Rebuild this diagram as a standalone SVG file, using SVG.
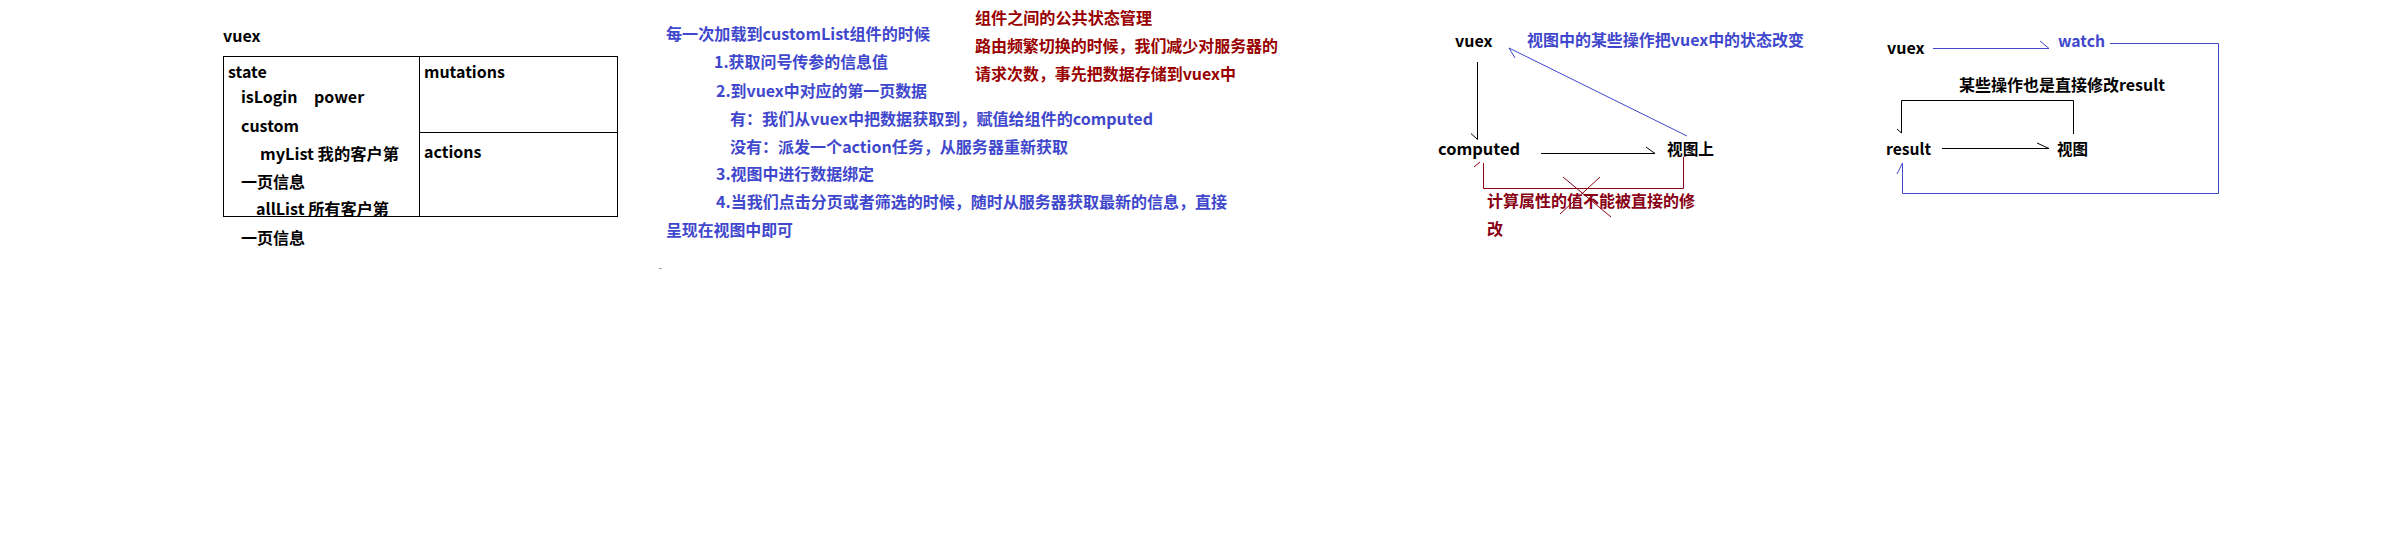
<svg xmlns="http://www.w3.org/2000/svg" width="2406" height="536" viewBox="0 0 2406 536">
<style>
text{font-family:"Noto Sans CJK SC","Noto Sans",sans-serif;font-weight:bold;font-size:16px;fill:#000}
.b{fill:#3F48CC}
.r{fill:#990000}
.r16{fill:#880015}
.ln{fill:none;stroke:#000;stroke-width:1}
.lb{fill:none;stroke:#3F48CC;stroke-width:1}
.lr{fill:none;stroke:#880015;stroke-width:1}
</style>
<rect width="2406" height="536" fill="#fff"/>
<g id="vuex-box">
<text x="223" y="42">vuex</text>
<rect x="223.5" y="56.5" width="394" height="160" fill="none" stroke="#000"/>
<path d="M419.5,56.5V216.5M419.5,132.5H617.5" class="ln"/>
<text x="228" y="78">state</text>
<text x="241" y="103">isLogin</text>
<text x="314" y="103">power</text>
<text x="241" y="132">custom</text>
<text x="260" y="160" textLength="139" lengthAdjust="spacingAndGlyphs">myList 我的客户第</text>
<text x="241" y="188">一页信息</text>
<text x="256" y="215" textLength="133" lengthAdjust="spacingAndGlyphs">allList 所有客户第</text>
<text x="241" y="244">一页信息</text>
<text x="424" y="78">mutations</text>
<text x="424" y="158">actions</text>
</g>
<g id="notes">
<text class="b" x="666" y="40" textLength="264" lengthAdjust="spacingAndGlyphs">每一次加载到customList组件的时候</text>
<text class="b" x="714" y="68" textLength="174" lengthAdjust="spacingAndGlyphs">1.获取问号传参的信息值</text>
<text class="b" x="716" y="97" textLength="211" lengthAdjust="spacingAndGlyphs">2.到vuex中对应的第一页数据</text>
<text class="b" x="730" y="125" textLength="423" lengthAdjust="spacingAndGlyphs">有：我们从vuex中把数据获取到，赋值给组件的computed</text>
<text class="b" x="730" y="153" textLength="338" lengthAdjust="spacingAndGlyphs">没有：派发一个action任务，从服务器重新获取</text>
<text class="b" x="716" y="180" textLength="158" lengthAdjust="spacingAndGlyphs">3.视图中进行数据绑定</text>
<text class="b" x="716" y="208" textLength="511" lengthAdjust="spacingAndGlyphs">4.当我们点击分页或者筛选的时候，随时从服务器获取最新的信息，直接</text>
<text class="b" x="666" y="236" textLength="127" lengthAdjust="spacingAndGlyphs">呈现在视图中即可</text>
<text x="659" y="271" style="font-size:8px;font-weight:normal">-</text>
<text class="r" x="975" y="24" textLength="177" lengthAdjust="spacingAndGlyphs">组件之间的公共状态管理</text>
<text class="r" x="975" y="52" textLength="303" lengthAdjust="spacingAndGlyphs">路由频繁切换的时候，我们减少对服务器的</text>
<text class="r" x="975" y="80" textLength="261" lengthAdjust="spacingAndGlyphs">请求次数，事先把数据存储到vuex中</text>
</g>
<g id="d1-vuex"><text x="1455" y="47">vuex</text></g>
<g id="d1-note"><text class="b" x="1527" y="46" textLength="277" lengthAdjust="spacingAndGlyphs">视图中的某些操作把vuex中的状态改变</text></g>
<g id="d1-computed"><text x="1438" y="155" textLength="82" lengthAdjust="spacingAndGlyphs">computed</text></g>
<g id="d1-view"><text x="1667" y="155" textLength="47" lengthAdjust="spacingAndGlyphs">视图上</text></g>
<g id="d1-red-note">
<text class="r16" x="1487" y="207" textLength="208" lengthAdjust="spacingAndGlyphs">计算属性的值不能被直接的修</text>
<text class="r16" x="1487" y="235">改</text>
</g>
<g id="d2-vuex"><text x="1887" y="54">vuex</text></g>
<g id="d2-watch"><text class="b" x="2058" y="47" textLength="47" lengthAdjust="spacingAndGlyphs">watch</text></g>
<g id="d2-note"><text x="1959" y="91" textLength="206" lengthAdjust="spacingAndGlyphs">某些操作也是直接修改result</text></g>
<g id="d2-result"><text x="1886" y="155" textLength="45" lengthAdjust="spacingAndGlyphs">result</text></g>
<g id="d2-view"><text x="2057" y="155" textLength="31" lengthAdjust="spacingAndGlyphs">视图</text></g>
<g id="connectors">
<path class="ln" d="M1477.5,62V139.5M1471,133.5L1477.5,139.5"/>
<path class="ln" d="M1541,153.5H1655M1646,147L1655,153.5"/>
<path class="lb" d="M1687,136L1509,48M1509,48L1515,58"/>
<path class="lr" d="M1683.5,157V188.5H1483.5V163M1474,167L1480,162"/>
<path class="lr" d="M1563,177L1611,217M1600,177L1560,214"/>
<path class="lb" d="M1933,48.5H2049M2040,41L2049,48.5"/>
<path class="lb" d="M2110,43.5H2218.5V193.5H1902.5V163M1897,174L1902.5,163"/>
<path class="ln" d="M2073.5,134V100.5H1901.5V133M1897,129L1901.5,133"/>
<path class="ln" d="M1942,148.5H2049M2037,143L2049,148.5"/>
</g>
</svg>
